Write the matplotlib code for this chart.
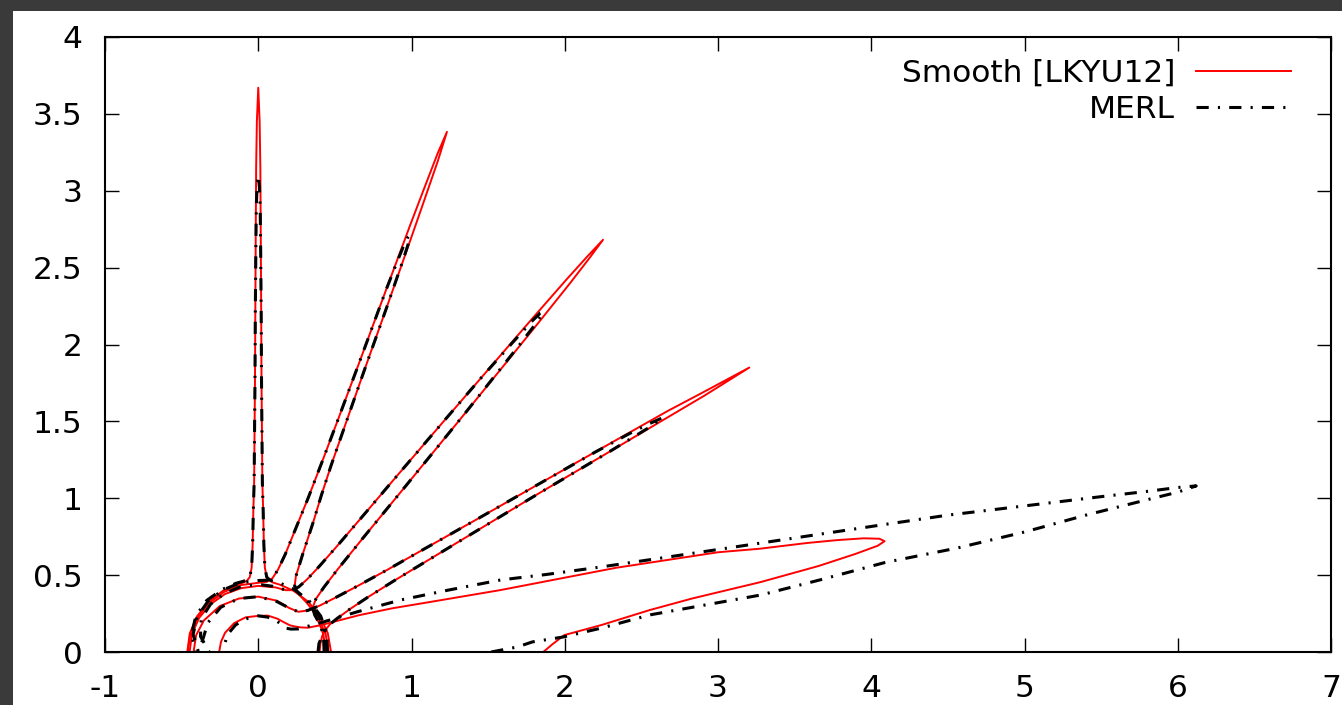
import numpy as np
import matplotlib.pyplot as plt
from matplotlib.patches import Rectangle

plt.rcParams['font.family'] = ['DejaVu Sans']
plt.rcParams['axes.unicode_minus'] = False

# polar samples of each lobe: angle (deg) and radius
TH_A = [0, 15, 30, 45, 60, 72, 78, 81, 83.5, 85.5, 87, 88, 88.6, 89.0, 89.3, 89.5, 89.65, 89.75, 89.85, 90,
        90.15, 90.25, 90.35, 90.5, 90.7, 91.0, 91.4, 92, 93, 94.5, 96.5, 99, 102, 108, 120, 135, 150, 165, 180]
RED_A = [0.475, 0.47, 0.465, 0.462, 0.46, 0.46, 0.462, 0.47, 0.49, 0.55, 0.70, 0.92, 1.10, 1.40, 1.75, 2.2, 2.7, 3.15, 3.45, 3.67,
         3.45, 3.15, 2.7, 2.2, 1.75, 1.40, 1.10, 0.92, 0.70, 0.55, 0.49, 0.47, 0.462, 0.46, 0.46, 0.46, 0.462, 0.463, 0.463]
MERL_A = [0.45, 0.465, 0.47, 0.47, 0.47, 0.47, 0.47, 0.475, 0.49, 0.55, 0.70, 0.92, 1.10, 1.40, 1.75, 2.2, 2.6, 2.9, 3.02, 3.1,
          3.02, 2.9, 2.6, 2.2, 1.75, 1.40, 1.10, 0.92, 0.70, 0.55, 0.49, 0.475, 0.47, 0.47, 0.47, 0.475, 0.47, 0.45, 0.41]

TH_B = [0, 15, 30, 45, 52, 58, 61, 63.5, 65.5, 67, 68, 68.6, 69.0, 69.3, 69.5, 69.65, 69.75, 69.85, 70, 70.15,
        70.25, 70.35, 70.5, 70.7, 71.0, 71.4, 72, 73, 74.5, 76.5, 79, 83, 90, 105, 120, 135, 150, 165, 180]
RED_B = [0.46, 0.455, 0.45, 0.45, 0.455, 0.47, 0.49, 0.55, 0.70, 0.92, 1.10, 1.30, 1.6, 1.95, 2.4, 2.8, 3.1, 3.4, 3.60, 3.45,
         3.2, 2.95, 2.5, 2.0, 1.6, 1.3, 1.05, 0.85, 0.66, 0.55, 0.49, 0.46, 0.45, 0.45, 0.45, 0.452, 0.455, 0.458, 0.46]
MERL_B = [0.45, 0.455, 0.46, 0.46, 0.46, 0.47, 0.49, 0.55, 0.70, 0.92, 1.10, 1.30, 1.6, 1.95, 2.4, 2.7, 2.82, 2.87, 2.88, 2.86,
          2.8, 2.7, 2.5, 2.0, 1.6, 1.3, 1.05, 0.85, 0.66, 0.55, 0.49, 0.47, 0.465, 0.465, 0.465, 0.465, 0.46, 0.44, 0.39]

TH_C = [0, 15, 25, 33, 37, 40, 42.5, 44.5, 46, 47.3, 48.3, 49.0, 49.5, 49.7, 49.85, 50, 50.15, 50.3, 50.5, 50.8,
        51.2, 51.7, 52.4, 53.3, 54.5, 56, 58, 61, 66, 75, 90, 105, 120, 135, 150, 165, 180]
RED_C = [0.44, 0.44, 0.44, 0.44, 0.45, 0.47, 0.51, 0.6, 0.74, 1.0, 1.45, 2.05, 2.8, 3.15, 3.35, 3.5, 3.35, 3.15, 2.8, 2.3,
         1.85, 1.45, 1.1, 0.85, 0.68, 0.57, 0.5, 0.46, 0.44, 0.435, 0.43, 0.43, 0.435, 0.44, 0.445, 0.448, 0.448]
MERL_C = [0.43, 0.44, 0.44, 0.44, 0.45, 0.47, 0.51, 0.6, 0.74, 1.0, 1.45, 2.05, 2.6, 2.8, 2.87, 2.89, 2.87, 2.8, 2.6, 2.3,
          1.85, 1.45, 1.1, 0.85, 0.68, 0.57, 0.5, 0.46, 0.44, 0.44, 0.44, 0.44, 0.44, 0.44, 0.43, 0.39, 0.32]

TH_D = [0, 8, 14, 18, 21, 23, 25, 26.5, 27.6, 28.4, 28.9, 29.4, 29.6, 29.8, 30, 30.2, 30.4, 30.6, 30.85, 31.2,
        31.7, 32.4, 33.5, 35, 37, 40, 45, 55, 70, 90, 110, 130, 150, 165, 180]
RED_D = [0.40, 0.41, 0.43, 0.46, 0.5, 0.56, 0.66, 0.8, 1.0, 1.3, 1.6, 2.1, 2.6, 3.35, 3.7, 3.35, 3.1, 2.6, 2.1, 1.65,
         1.3, 1.0, 0.78, 0.62, 0.5, 0.42, 0.37, 0.35, 0.355, 0.36, 0.37, 0.39, 0.41, 0.42, 0.422]
MERL_D = [0.39, 0.40, 0.43, 0.46, 0.5, 0.56, 0.66, 0.8, 1.0, 1.3, 1.6, 2.1, 2.6, 2.95, 3.05, 2.95, 2.8, 2.55, 2.1, 1.65,
          1.3, 1.0, 0.78, 0.62, 0.5, 0.42, 0.37, 0.35, 0.35, 0.36, 0.37, 0.38, 0.38, 0.37, 0.39]

TH_E = [0, 1.5, 3.15, 4.5, 6.1, 7.0, 7.9, 8.7, 9.3, 9.7, 10.0, 10.3, 10.6, 10.9, 11.2, 11.6, 12.2, 13.2, 14.3, 16,
        18, 20, 21.5, 23, 26, 30, 35, 40, 50, 60, 75, 90, 110, 130, 150, 165, 180]
RED_E = [1.86, 1.92, 2.0, 2.25, 2.57, 2.85, 3.31, 3.7, 3.95, 4.1, 4.15, 4.12, 4.02, 3.85, 3.65, 3.34, 3.07, 2.4, 1.63, 1.2,
         0.92, 0.7, 0.55, 0.45, 0.36, 0.32, 0.29, 0.27, 0.255, 0.25, 0.245, 0.235, 0.24, 0.245, 0.25, 0.252, 0.255]

TH_E_MERL = [0, 1.1, 2.1, 2.8, 4.0, 5.4, 6.45, 7.3, 8.1, 8.43, 8.87, 9.36, 9.69, 9.83, 10.01, 10.11, 10.21, 10.41, 10.76, 11.19,
             11.47, 12.2, 13.0, 13.9, 15, 16.5, 18, 20, 22, 25, 30, 35, 40, 50, 60, 75, 90, 110, 130, 150, 165, 180]
MERL_E = [1.52, 1.69, 1.79, 1.99, 2.25, 2.57, 3.3, 3.7, 4.13, 4.607, 5.06, 5.473, 5.884, 6.089, 6.215, 6.095, 5.893, 5.592, 5.089, 4.587,
          4.173, 3.35, 2.75, 2.30, 1.95, 1.65, 1.3, 0.99, 0.7, 0.45, 0.3, 0.26, 0.24, 0.235, 0.235, 0.235, 0.235, 0.23, 0.23, 0.23, 0.225, 0.215]

SMOOTH_LOBES = [(TH_A, RED_A), (TH_B, RED_B), (TH_C, RED_C), (TH_D, RED_D), (TH_E, RED_E)]
MERL_LOBES = [(TH_A, MERL_A), (TH_B, MERL_B), (TH_C, MERL_C), (TH_D, MERL_D), (TH_E_MERL, MERL_E)]


def to_xy(th, r):
    t = np.radians(th)
    r = np.asarray(r)
    return r * np.cos(t), r * np.sin(t)


fig = plt.figure(figsize=(13.42, 7.05), dpi=100, facecolor='#3a3a3a')
fig.patches.append(Rectangle((13 / 1342, 0), 1, 694 / 705, transform=fig.transFigure,
                             facecolor='white', edgecolor='none', zorder=-10))
ax = fig.add_axes([105 / 1342, 53 / 705, 1226 / 1342, 615 / 705])
ax.set_zorder(5)

for i, (th, r) in enumerate(SMOOTH_LOBES):
    x, y = to_xy(th, r)
    ax.plot(x, y, color='#ff0000', lw=1.4, label='Smooth [LKYU12]' if i == 0 else None)
for i, (th, r) in enumerate(MERL_LOBES):
    x, y = to_xy(th, r)
    ax.plot(x, y, color='black', lw=2.2, dashes=(4, 3, 0.7, 3),
            label='MERL' if i == 0 else None)

ax.set_xlim(-1, 7)
ax.set_ylim(0, 4)
ax.set_xticks(range(-1, 8))
ax.set_yticks([0, 0.5, 1, 1.5, 2, 2.5, 3, 3.5, 4])
ax.set_yticklabels(['0', '0.5', '1', '1.5', '2', '2.5', '3', '3.5', '4'])
ax.tick_params(direction='in', length=10, width=1, top=True, right=True, labelsize=22.5)
ax.tick_params(axis='y', pad=16)
ax.tick_params(axis='x', pad=16)
for s in ax.spines.values():
    s.set_linewidth(1.5)

ax.legend(loc='upper right', bbox_to_anchor=((1291 - 105) / 1226, (652 - 59) / 615),
          frameon=False, markerfirst=False, fontsize=22.5, borderpad=0, borderaxespad=0,
          handlelength=3.04, labelspacing=0.22, handletextpad=0.67)

fig.savefig('out.png', dpi=100, facecolor=fig.get_facecolor())
